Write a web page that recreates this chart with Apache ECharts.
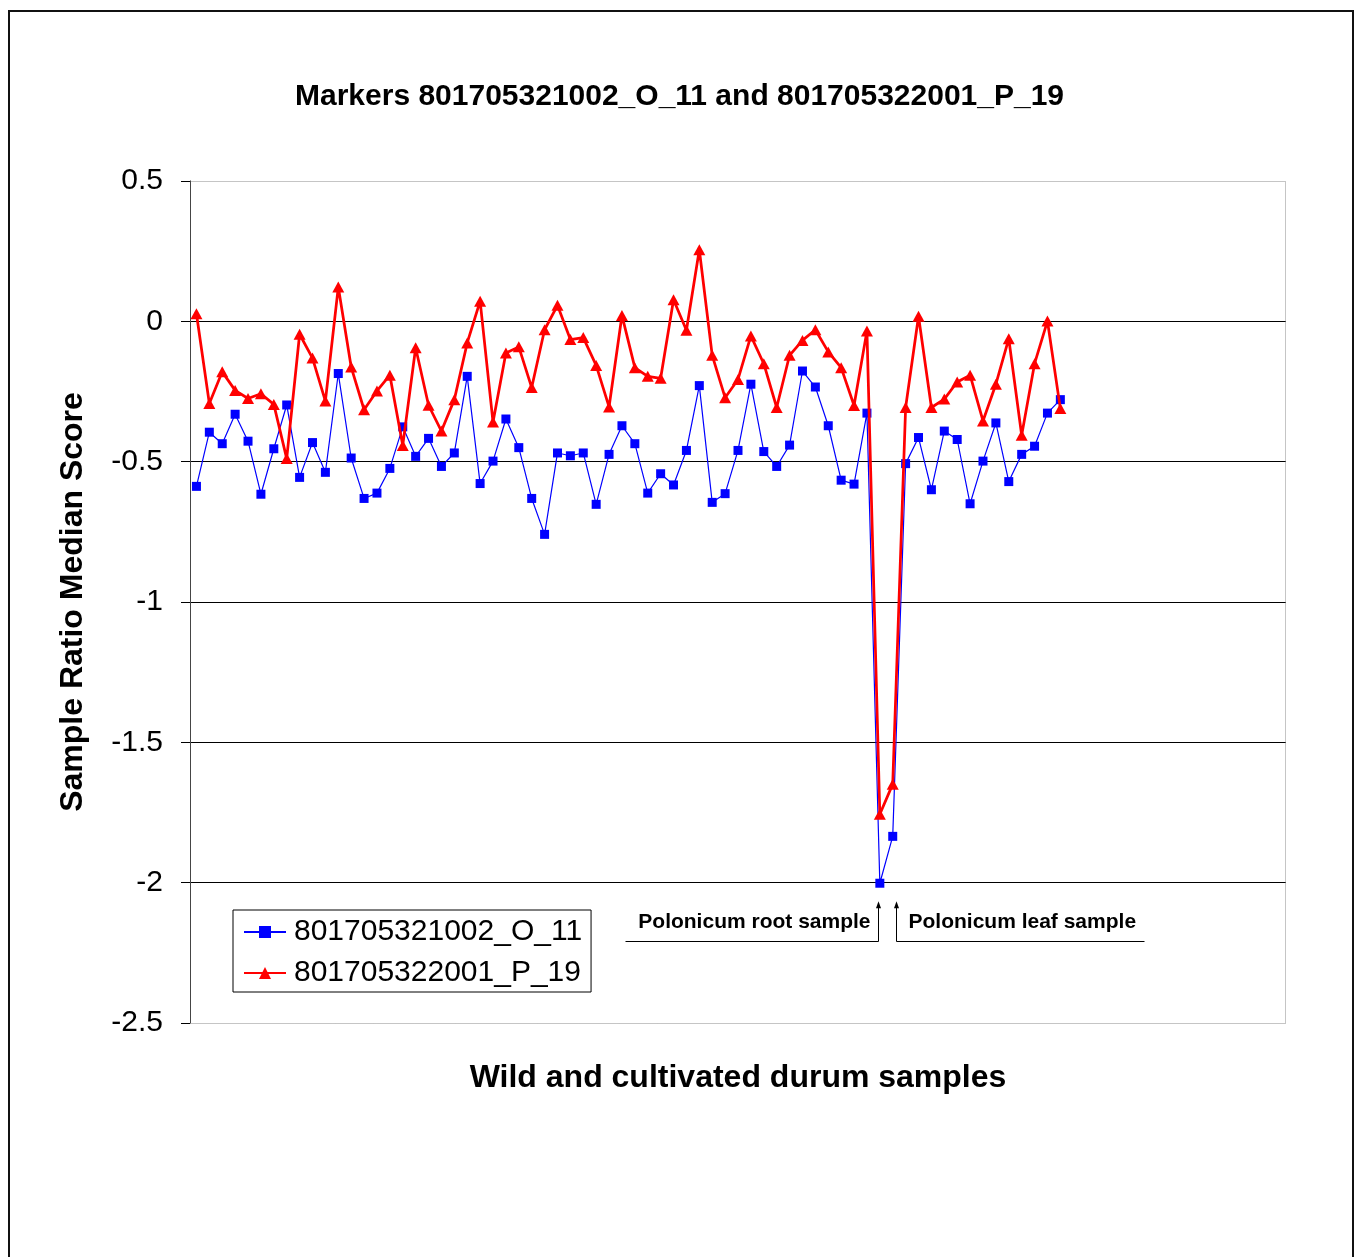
<!DOCTYPE html>
<html>
<head>
<meta charset="utf-8">
<script src="https://cdn.jsdelivr.net/npm/echarts@6/dist/echarts.min.js"></script>
<style>
  html, body { margin: 0; padding: 0; background: #ffffff; }
  #chart { width: 1359px; height: 1257px; }
  #frame { position: absolute; left: 8px; top: 10px; width: 1342px; height: 1262px;
           border: 2px solid #111; pointer-events: none; }
</style>
</head>
<body>
<div id="chart"></div>
<div id="frame"></div>
<script>
// Sample slots along the category axis (only the first ones carry measurements)
const sampleCount = 85;
const categories = Array.from({ length: sampleCount }, (_, i) => 'Sample ' + (i + 1));

// Sample ratio median scores, marker 801705321002_O_11
const markerO11 = [
  -0.588, -0.395, -0.436, -0.331, -0.427, -0.616, -0.454, -0.298, -0.556, -0.432,
  -0.538, -0.186, -0.487, -0.631, -0.612, -0.524, -0.376, -0.481, -0.417, -0.517,
  -0.469, -0.196, -0.578, -0.498, -0.348, -0.450, -0.631, -0.759, -0.469, -0.479,
  -0.469, -0.652, -0.474, -0.372, -0.436, -0.612, -0.543, -0.583, -0.460, -0.229,
  -0.645, -0.614, -0.460, -0.224, -0.464, -0.517, -0.441, -0.177, -0.234, -0.372,
  -0.566, -0.580, -0.327, -2.002, -1.835, -0.507, -0.414, -0.600, -0.391, -0.421,
  -0.650, -0.498, -0.362, -0.571, -0.474, -0.445, -0.327, -0.279
];

// Sample ratio median scores, marker 801705322001_P_19
const markerP19 = [
   0.027, -0.293, -0.180, -0.246, -0.275, -0.258, -0.296, -0.489, -0.046, -0.131,
  -0.284,  0.122, -0.163, -0.315, -0.248, -0.192, -0.442, -0.094, -0.299, -0.391,
  -0.279, -0.077,  0.072, -0.359, -0.113, -0.091, -0.236, -0.030,  0.057, -0.065,
  -0.058, -0.157, -0.305,  0.021, -0.165, -0.196, -0.203,  0.077, -0.032,  0.255,
  -0.121, -0.272, -0.207, -0.052, -0.151, -0.307, -0.121, -0.068, -0.030, -0.109,
  -0.165, -0.300, -0.034, -1.756, -1.649, -0.307,  0.018, -0.307, -0.277, -0.216,
  -0.192, -0.355, -0.224, -0.062, -0.406, -0.151,  0.001, -0.311
];

const seriesNames = ['801705321002_O_11', '801705322001_P_19'];

// Value axis range and step
const yMin = -2.5, yMax = 0.5, yStep = 0.5;

// Annotated samples (index into the sample slots)
const rootSampleIndex = 53;
const leafSampleIndex = 54;

const FONT = '"Liberation Sans", Arial, sans-serif';
const gridBox = { left: 190, right: 73, top: 181, bottom: 234 };

const chart = echarts.init(document.getElementById('chart'), null, { renderer: 'canvas' });

chart.setOption({
  animation: false,
  backgroundColor: '#ffffff',
  title: {
    text: 'Markers 801705321002_O_11 and 801705322001_P_19',
    left: 'center',
    top: 77,
    textStyle: { fontFamily: FONT, fontSize: 30, fontWeight: 'bold', color: '#000' }
  },
  legend: {
    orient: 'vertical',
    left: 233,
    top: 910,
    data: seriesNames,
    itemWidth: 42,
    itemHeight: 15,
    itemGap: 11,
    padding: [7, 9, 4, 10],
    borderColor: '#000',
    borderWidth: 1,
    textStyle: { fontFamily: FONT, fontSize: 30, color: '#000', lineHeight: 30, padding: [0, 0, 0, 3] }
  },
  grid: gridBox,
  xAxis: {
    type: 'category',
    data: categories,
    boundaryGap: true,
    name: 'Wild and cultivated durum samples',
    nameLocation: 'middle',
    nameGap: 39,
    nameTextStyle: { fontFamily: FONT, fontSize: 32, fontWeight: 'bold', color: '#000' },
    axisLine: { show: false },
    axisTick: { show: false },
    axisLabel: { show: false },
    splitLine: { show: false }
  },
  yAxis: {
    type: 'value',
    min: yMin,
    max: yMax,
    interval: yStep,
    name: 'Sample Ratio Median Score',
    nameLocation: 'middle',
    nameGap: 101,
    nameTextStyle: { fontFamily: FONT, fontSize: 32, fontWeight: 'bold', color: '#000' },
    axisLine: { show: true, lineStyle: { color: '#000', width: 1 } },
    axisTick: { show: true, length: 9, lineStyle: { color: '#000', width: 1 } },
    axisLabel: { margin: 27, fontFamily: FONT, fontSize: 30, color: '#000' },
    splitLine: { show: true, showMinLine: false, showMaxLine: false,
                 lineStyle: { color: '#000', width: 1 } }
  },
  series: [
    {
      name: seriesNames[0],
      type: 'line',
      data: markerO11,
      symbol: 'rect',
      symbolSize: 9,
      showSymbol: true,
      showAllSymbol: true,
      lineStyle: { color: '#0000ff', width: 1.2 },
      itemStyle: { color: '#0000ff' },
      z: 3
    },
    {
      name: seriesNames[1],
      type: 'line',
      data: markerP19,
      symbol: 'triangle',
      symbolSize: [12, 11],
      showSymbol: true,
      showAllSymbol: true,
      lineStyle: { color: '#ff0000', width: 2.75 },
      itemStyle: { color: '#ff0000' },
      z: 4
    }
  ]
});

// Plot-area frame and the two sample call-outs, placed through the axes
function drawOverlays() {
  const W = chart.getWidth(), H = chart.getHeight();
  const gx = gridBox.left, gy = gridBox.top;
  const gw = W - gridBox.left - gridBox.right, gh = H - gridBox.top - gridBox.bottom;

  const px = (idx, v) => chart.convertToPixel({ gridIndex: 0 }, [idx, v]);
  const rootTip = px(rootSampleIndex, -2.07), rootBase = px(rootSampleIndex, -2.209);
  const leafTip = px(leafSampleIndex, -2.07);
  const textY = px(rootSampleIndex, -2.141)[1];
  const rx = Math.round(rootTip[0] - 1.5) + 0.5;
  const lx = Math.round(leafTip[0] + 3) + 0.5;
  const tipY = rootTip[1], baseY = Math.round(rootBase[1]) + 0.5;

  const arrowHead = (x) => ({
    type: 'polygon',
    shape: { points: [[x, tipY - 1], [x - 2.5, tipY + 6], [x + 2.5, tipY + 6]] },
    style: { fill: '#000' }
  });
  const labelStyle = { fontFamily: FONT, fontSize: 21, fontWeight: 'bold', fill: '#000' };

  chart.setOption({
    graphic: [
      { type: 'rect', shape: { x: gx + 0.5, y: gy + 0.5, width: gw - 1, height: gh },
        style: { fill: null, stroke: '#8a8a8a', lineWidth: 1, lineDash: [1, 1] }, z: 1 },
      { type: 'polyline', shape: { points: [[rx - 253, baseY], [rx, baseY], [rx, tipY + 4]] },
        style: { stroke: '#000', lineWidth: 1, fill: null } },
      arrowHead(rx),
      { type: 'text', x: rx - 8, y: textY,
        style: Object.assign({ text: 'Polonicum root sample', align: 'right', verticalAlign: 'middle' }, labelStyle) },
      { type: 'polyline', shape: { points: [[lx + 248, baseY], [lx, baseY], [lx, tipY + 4]] },
        style: { stroke: '#000', lineWidth: 1, fill: null } },
      arrowHead(lx),
      { type: 'text', x: lx + 12, y: textY,
        style: Object.assign({ text: 'Polonicum leaf sample', align: 'left', verticalAlign: 'middle' }, labelStyle) }
    ]
  });
}
drawOverlays();
</script>
</body>
</html>
